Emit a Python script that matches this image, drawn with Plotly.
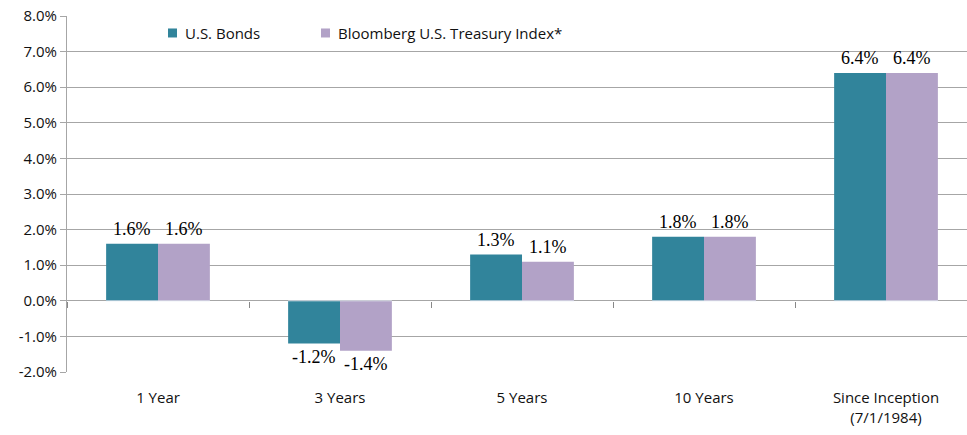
import plotly.graph_objects as go

categories = ["1 Year", "3 Years", "5 Years", "10 Years", "Since Inception<br>(7/1/1984)"]
us_bonds = [1.6, -1.2, 1.3, 1.8, 6.4]
treasury_index = [1.6, -1.4, 1.1, 1.8, 6.4]
series_names = ["U.S. Bonds", "Bloomberg U.S. Treasury Index*"]
y_ticks = [-2, -1, 0, 1, 2, 3, 4, 5, 6, 7, 8]
y_tick_labels = ["-2.0%", "-1.0%", "0.0%", "1.0%", "2.0%", "3.0%", "4.0%", "5.0%", "6.0%", "7.0%", "8.0%"]

TEAL = "#31849B"
PURPLE = "#B2A2C7"
GRID = "#A6A6A6"
AXIS_FONT = dict(family="Open Sans", size=15, color="#111111")
LABEL_FONT = dict(family="Liberation Serif", size=18, color="#000000")

fig = go.Figure()
series = [(series_names[0], us_bonds, TEAL, -26), (series_names[1], treasury_index, PURPLE, 26)]
for name, vals, col, dx in series:
    fig.add_trace(go.Bar(
        x=categories, y=vals, name=name, marker=dict(color=col, line=dict(width=0)),
        showlegend=False,
    ))
    for cat, v in zip(categories, vals):
        fig.add_annotation(x=cat, y=v, xref="x", yref="y", text=f"{v:.1f}%",
                           showarrow=False, xshift=dx, yshift=(15 if v >= 0 else -13),
                           font=LABEL_FONT)

# invisible trace to carry tick marks on the zero line
fig.add_trace(go.Bar(x=categories, y=[0] * len(categories), xaxis="x2", showlegend=False,
                     hoverinfo="skip", marker=dict(color="rgba(0,0,0,0)")))

# legend drawn as swatches + text (paper coordinates)
legend_items = [(series_names[0], TEAL, 0.1122), (series_names[1], PURPLE, 0.2822)]
for name, col, lx in legend_items:
    fig.add_shape(type="rect", xref="paper", yref="paper",
                  x0=lx, x1=lx + 9 / 900, y0=0.9523 - 4.5 / 356, y1=0.9523 + 4.5 / 356,
                  fillcolor=col, line=dict(width=0))
    fig.add_annotation(xref="paper", yref="paper", x=lx + 15 / 900, y=0.9523,
                       xanchor="left", yanchor="middle", text=name, showarrow=False,
                       font=dict(family="Open Sans", size=15, color="#111111"))

fig.update_layout(
    width=967, height=435,
    margin=dict(l=67, r=0, t=16, b=63),
    paper_bgcolor="white", plot_bgcolor="white",
    barmode="group", bargap=0.43, bargroupgap=0,
    font=AXIS_FONT,
    showlegend=False,
    xaxis=dict(type="category", range=[-0.5, 4.445], showgrid=False, showline=False,
               ticks="outside", ticklen=12, tickcolor="rgba(0,0,0,0)", tickfont=AXIS_FONT),
    xaxis2=dict(type="category", overlaying="x", anchor="free", position=0.2,
                range=[-0.5, 4.445], showgrid=False, showline=False, showticklabels=False,
                ticks="outside", tickson="boundaries", ticklen=6, tickcolor="#888888"),
    yaxis=dict(range=[-2, 8], tickvals=y_ticks, ticktext=y_tick_labels,
               showgrid=True, gridcolor=GRID, gridwidth=1,
               zeroline=True, zerolinecolor=GRID, zerolinewidth=1,
               showline=True, linecolor=GRID, linewidth=1,
               ticks="outside", ticklen=6, tickcolor=GRID, tickfont=AXIS_FONT),
)
fig.write_html("out.html", config={"displayModeBar": False},
               post_script="document.body.style.margin='0';document.body.style.overflow='hidden';")
